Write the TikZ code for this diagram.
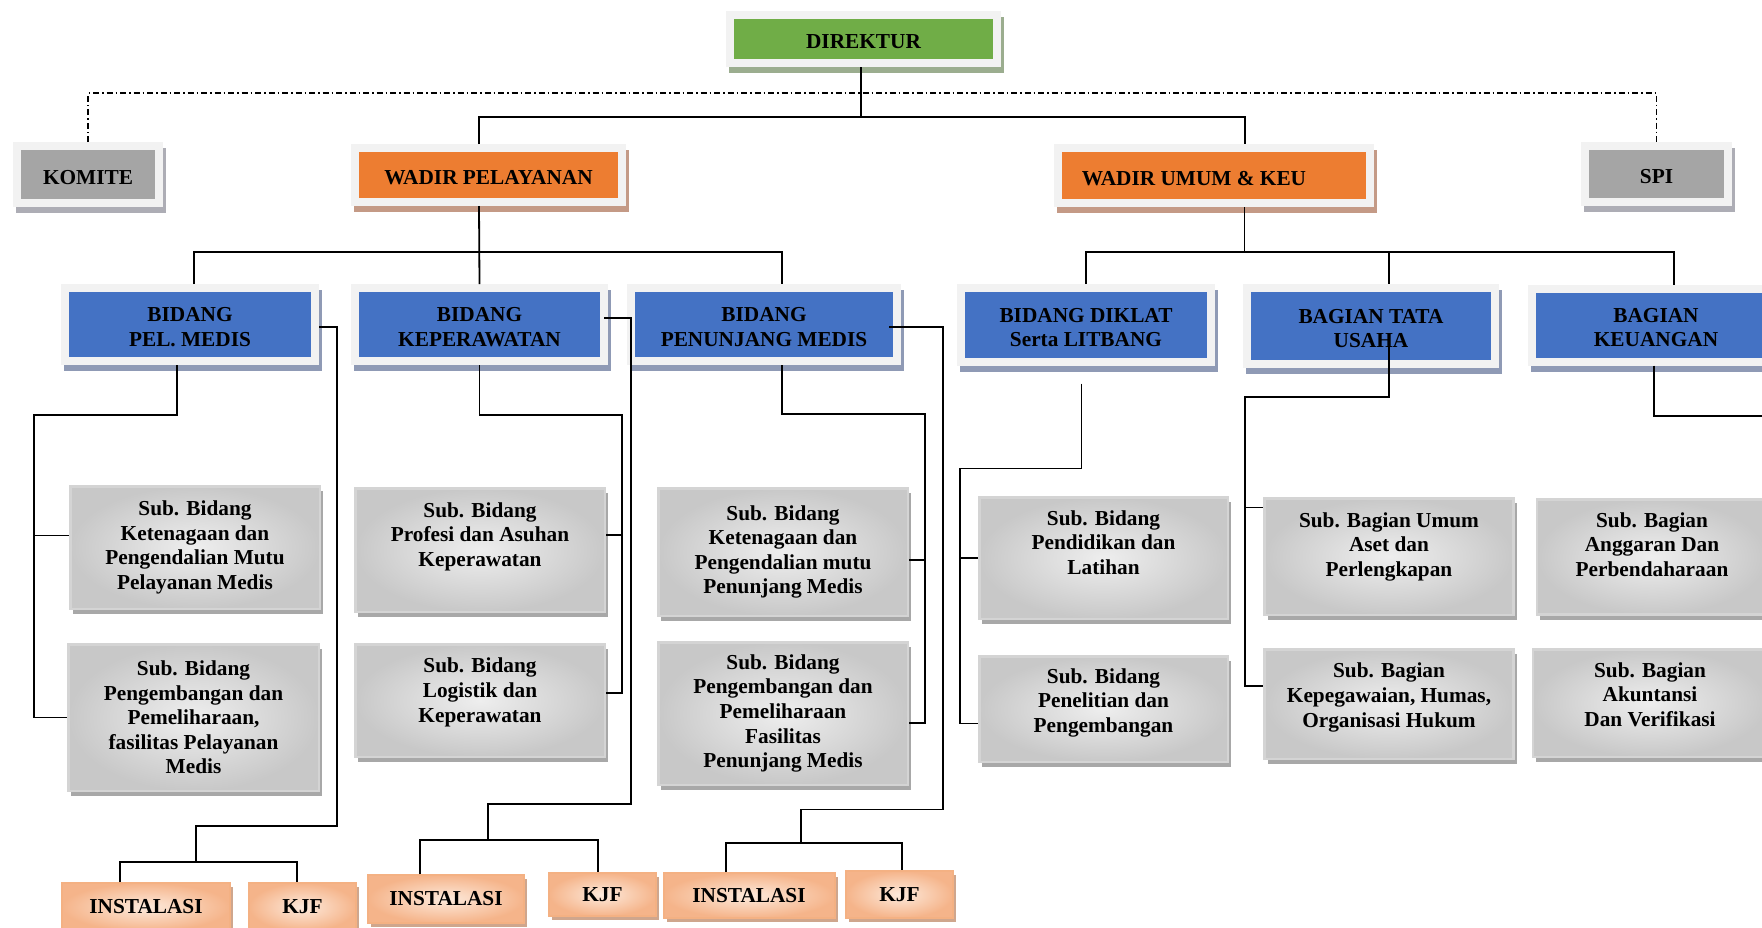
\documentclass[tikz,border=0pt]{standalone}
\usepackage{xcolor}
\usepackage{fontspec}
\setmainfont{Liberation Serif}
\usetikzlibrary{calc}
\definecolor{framegray}{HTML}{F2F2F2}
\definecolor{dirgreen}{HTML}{70AD47}
\definecolor{dirshadow}{HTML}{9BAD8F}
\definecolor{wadorange}{HTML}{ED7D31}
\definecolor{wadshadow}{HTML}{C49A86}
\definecolor{bidblue}{HTML}{4472C4}
\definecolor{bidshadow}{HTML}{8F9AB5}
\definecolor{sidegray}{HTML}{A5A5A5}
\definecolor{sideshadow}{HTML}{ADADB5}
\definecolor{subedge}{HTML}{D4D4D4}
\definecolor{subin}{HTML}{EEEEEE}
\definecolor{subout}{HTML}{C8C8C8}
\definecolor{subshadow}{HTML}{A8A8A8}
\definecolor{unitedge}{HTML}{F4B183}
\definecolor{unitin}{HTML}{FDEADC}
\definecolor{unitout}{HTML}{F5B48A}
\definecolor{unitshadow}{HTML}{CFA68D}
\newcommand{\uplift}{\rule{0pt}{19.5pt}}

\begin{document}
\begin{tikzpicture}[x=1pt, y=-1pt]
  \tikzset{boxtext/.style={align=center, inner sep=2pt, font=\bfseries\fontsize{21.3}{24.6}\selectfont}}
  \tikzset{topbox/.style 2 args={boxtext, fill=#1, draw=framegray, line width=8pt,
      preaction={fill=#2, draw=#2, line width=8pt, transform canvas={shift={(2.5pt,-6pt)}}}}}
  \tikzset{subbox/.style={boxtext, inner color=subin, outer color=subout, draw=subedge, line width=2.5pt,
      preaction={fill=subshadow, transform canvas={shift={(3pt,-5pt)}}}}}
  \tikzset{unitbox/.style={boxtext, inner color=unitin, outer color=unitout, draw=unitedge, line width=2pt,
      preaction={fill=unitshadow, transform canvas={shift={(3pt,-4pt)}}}}}
  \tikzset{conn/.style={black, line width=1.8pt}}
  \tikzset{staffline/.style={black, line width=1.4pt, dash pattern=on 6pt off 3pt on 1.5pt off 3pt}}
  \useasboundingbox (0,0) rectangle (1762,927);
  \clip (0,0) rectangle (1762,927);

  \node[topbox={dirgreen}{dirshadow}, minimum width=267pt, minimum height=48pt] (direktur) at (863.5,39) {\uplift DIREKTUR};
  \node[topbox={sidegray}{sideshadow}, minimum width=142pt, minimum height=57pt] (komite) at (88,174.5) {\uplift KOMITE};
  \node[topbox={sidegray}{sideshadow}, minimum width=143pt, minimum height=56pt] (spi) at (1656.5,174) {\uplift SPI};
  \node[topbox={wadorange}{wadshadow}, minimum width=267pt, minimum height=54pt] (wadirpel) at (488.5,175) {\uplift WADIR PELAYANAN};
  \node[topbox={wadorange}{wadshadow}, minimum width=312pt, minimum height=55pt] (wadirumum) at (1214,175.5) {\uplift WADIR UMUM \& KEU\hspace*{40pt}};

  \node[topbox={bidblue}{bidshadow}, minimum width=250pt, minimum height=73pt] (bpm) at (190,324.5) {\uplift BIDANG\\PEL. MEDIS};
  \node[topbox={bidblue}{bidshadow}, minimum width=249pt, minimum height=73pt] (bkep) at (479.5,324.5) {\uplift BIDANG\\KEPERAWATAN};
  \node[topbox={bidblue}{bidshadow}, minimum width=266pt, minimum height=73pt] (bpen) at (764,324.5) {\uplift BIDANG\\PENUNJANG MEDIS};
  \node[topbox={bidblue}{bidshadow}, minimum width=250pt, minimum height=74pt] (bdik) at (1086,325) {\uplift BIDANG DIKLAT\\Serta LITBANG};
  \node[topbox={bidblue}{bidshadow}, minimum width=248pt, minimum height=76pt] (btu) at (1371,326) {\uplift BAGIAN TATA\\USAHA};
  \node[topbox={bidblue}{bidshadow}, minimum width=248pt, minimum height=73pt] (bkeu) at (1656,325) {\uplift BAGIAN\\KEUANGAN};

  \node[subbox, minimum width=249.5pt, minimum height=122.5pt] (spm1) at (195,547.5) {Sub. Bidang\\Ketenagaan dan\\Pengendalian Mutu\\Pelayanan Medis};
  \node[subbox, minimum width=250.5pt, minimum height=146.5pt] (spm2) at (193.5,717.5) {Sub. Bidang\\Pengembangan dan\\Pemeliharaan,\\fasilitas Pelayanan\\Medis};
  \node[subbox, minimum width=249.5pt, minimum height=123.5pt, text depth=31pt] (skep1) at (480,550) {Sub. Bidang\\Profesi dan Asuhan\\Keperawatan};
  \node[subbox, minimum width=249.5pt, minimum height=112.5pt, text depth=21pt] (skep2) at (480,700.5) {Sub. Bidang\\Logistik dan\\Keperawatan};
  \node[subbox, minimum width=249.5pt, minimum height=127.5pt] (spen1) at (783,552) {Sub. Bidang\\Ketenagaan dan\\Pengendalian mutu\\Penunjang Medis};
  \node[subbox, minimum width=249.5pt, minimum height=142.5pt] (spen2) at (783,713.5) {Sub. Bidang\\Pengembangan dan\\Pemeliharaan\\Fasilitas\\Penunjang Medis};
  \node[subbox, minimum width=248.5pt, minimum height=121.5pt, text depth=31pt] (sdik1) at (1103.5,558) {Sub. Bidang\\Pendidikan dan\\Latihan};
  \node[subbox, minimum width=248.5pt, minimum height=105.5pt, text depth=17pt] (sdik2) at (1103.5,709) {Sub. Bidang\\Penelitian dan\\Pengembangan};
  \node[subbox, minimum width=249pt, minimum height=116.5pt, text depth=24pt] (stu1) at (1389,556.5) {Sub. Bagian Umum\\Aset dan\\Perlengkapan};
  \node[subbox, minimum width=249pt, minimum height=109.5pt, text depth=18pt] (stu2) at (1389,704) {Sub. Bagian\\Kepegawaian, Humas,\\Organisasi Hukum};
  \node[subbox, minimum width=230pt, minimum height=115pt, text depth=25pt] (skeu1) at (1652,557) {Sub. Bagian\\Anggaran Dan\\Perbendaharaan};
  \node[subbox, minimum width=234pt, minimum height=107.5pt, text depth=17pt] (skeu2) at (1650,703) {Sub. Bagian\\Akuntansi\\Dan Verifikasi};

  \foreach \n/\x/\y/\w/\h/\t in {inst1/146/907/168/48/INSTALASI, kjf1/302.5/907/107/48/KJF,
      inst2/446/899/156/48/INSTALASI, kjf2/602.5/894.5/107/43/KJF,
      inst3/749/895.5/171/45/INSTALASI, kjf3/899.5/894.5/107/47/KJF} {
    \node[unitbox, minimum width=\w pt, minimum height=\h pt] (\n) at (\x,\y) {\t};
  }

  \coordinate (bus0) at (0,93);
  \coordinate (bus1) at (861,117);
  \coordinate (bus2) at (479,252);
  \coordinate (bus3) at (1244.5,252);
  \draw[staffline] (komite.north) |- (bus0 -| spi.north) -- (spi.north);
  \draw[conn] (direktur.south -| bus1) -- (bus1);
  \draw[conn] ($(wadirpel.north)+(-9.5,0)$) |- (bus1) -| ($(wadirumum.north)+(31,0)$);
  \draw[conn] ($(wadirpel.south)+(-9.5,0)$) -- (bkep.north);
  \draw[conn] ($(bpm.north)+(4,0)$) |- (bus2) -| ($(bpen.north)+(18,0)$);
  \draw[conn] ($(wadirumum.south)+(30.5,0)$) -- (bus3);
  \draw[conn] (bdik.north) |- (bus3) -| ($(bkeu.north)+(17.6,0)$);
  \draw[conn] (bus3) -| ($(btu.north)+(18,0)$);

  \coordinate (pm-j) at (34,415);
  \coordinate (kp-j) at (622,415);
  \coordinate (pn-j) at (925,414);
  \coordinate (dk-j) at (960,468.5);
  \coordinate (tu-j) at (1245,397);
  \coordinate (ku-j) at (1780,416);
  \draw[conn] ($(bpm.south)+(-13,0)$) |- (pm-j) |- (spm2.west);
  \draw[conn] (pm-j) |- ($(spm1.west)+(0,-12)$);
  \draw[conn] (bkep.south) |- (kp-j) |- ($(skep2.east)+(0,-7.5)$);
  \draw[conn] (kp-j) |- ($(skep1.east)+(0,-15)$);
  \draw[conn] ($(bpen.south)+(18,0)$) |- (pn-j) |- ($(spen2.east)+(0,9.5)$);
  \draw[conn] (pn-j) |- ($(spen1.east)+(0,8)$);
  \draw[conn] ($(bdik.south)+(-4.5,17.5)$) |- (dk-j) |- ($(sdik2.west)+(0,14.5)$);
  \draw[conn] (dk-j) |- (sdik1.west);
  \draw[conn] ($(btu.south)+(18,-21)$) |- (tu-j) |- ($(stu2.west)+(0,-18)$);
  \draw[conn] (tu-j) |- ($(stu1.west)+(0,-49)$);
  \draw[conn] ($(bkeu.south)+(-2,0)$) |- (ku-j);

  \coordinate (pm-k) at (337,826);
  \coordinate (pm-b) at (196,862);
  \coordinate (kp-k) at (631,804);
  \coordinate (kp-b) at (488,840);
  \coordinate (pn-k) at (943,809.5);
  \coordinate (pn-b) at (800.7,843);
  \draw[conn] ($(bpm.east)+(0,2.5)$) -| (pm-k) -| (pm-b);
  \draw[conn] ($(inst1.north)+(-26,0)$) |- (pm-b) -| ($(kjf1.north)+(-5.5,0)$);
  \draw[conn] ($(bkep.east)+(-4,-6.5)$) -| (kp-k) -| (kp-b);
  \draw[conn] ($(inst2.north)+(-26,0)$) |- (kp-b) -| ($(kjf2.north)+(-4.5,0)$);
  \draw[conn] ($(bpen.east)+(-12,2.5)$) -| (pn-k) -| (pn-b);
  \draw[conn] ($(inst3.north)+(-23.4,0)$) |- (pn-b) -| ($(kjf3.north)+(2.5,0)$);
\end{tikzpicture}
\end{document}
